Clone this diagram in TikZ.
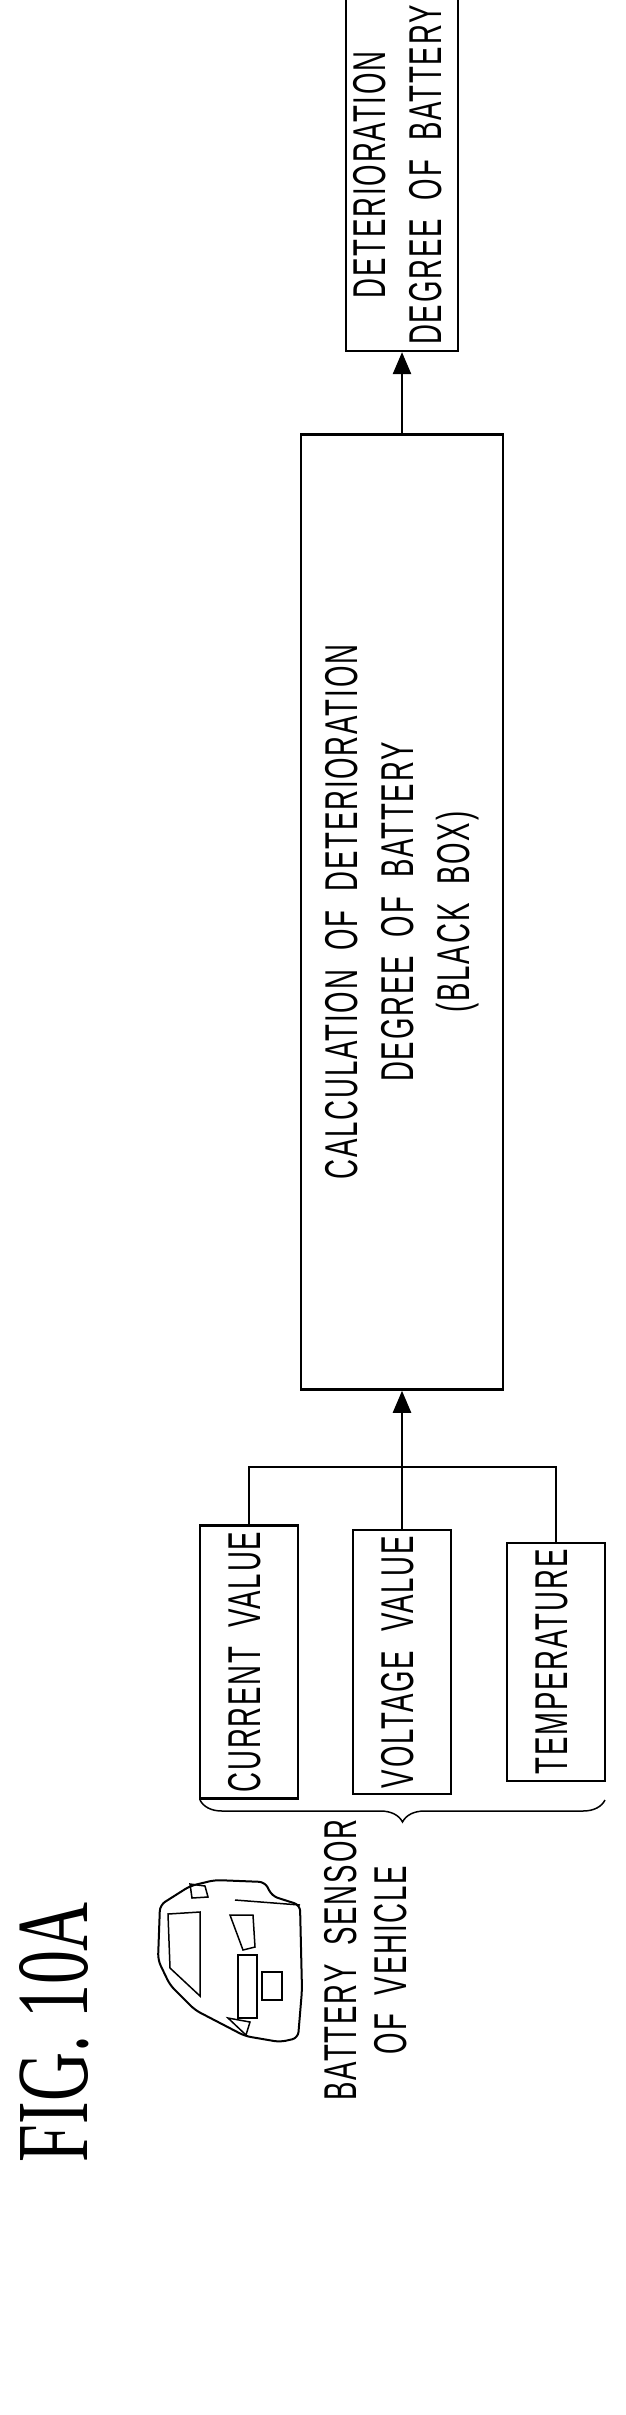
\documentclass[tikz,border=0pt]{standalone}
\usepackage{fontspec}
\setmainfont{Liberation Serif}
\newfontfamily\cond[FakeStretch=0.6,LetterSpace=4,WordSpace=2]{Liberation Sans}
\usetikzlibrary{decorations.pathreplacing,arrows.meta}

\tikzset{
  blk/.style={draw, line width=2.5pt, inner sep=0pt, font=\cond\fontsize{46}{56}\selectfont},
  conn/.style={line width=2.5pt},
  arr/.style={conn, -{Triangle[length=22pt,width=18pt]}}
}
\newcommand{\vtext}[1]{\rotatebox{90}{\begin{tabular}{c}#1\end{tabular}}}

\begin{document}
\begin{tikzpicture}[x=1pt,y=-1pt]
    \useasboundingbox (0,0) rectangle (626,2415);

    \node[blk, minimum width=100pt, minimum height=323pt] (out)  at (402,175) {\vtext{DETERIORATION\\DEGREE OF BATTERY}};
    \node[blk, minimum width=202pt, minimum height=955pt] (calc) at (402,912) {\vtext{CALCULATION OF DETERIORATION\\DEGREE OF BATTERY\\(BLACK BOX)}};
    \node[blk, minimum width=98pt, minimum height=238pt]  (cur)  at (249,1662) {\vtext{CURRENT VALUE}};
    \node[blk, minimum width=98pt, minimum height=238pt]  (volt) at (402,1662) {\vtext{VOLTAGE VALUE}};
    \node[blk, minimum width=98pt, minimum height=238pt]  (temp) at (556,1662) {\vtext{TEMPERATURE}};

    \coordinate (bus) at (402,1467);
    \draw[conn] (cur.north) |- (bus) -| (temp.north);
    \draw[arr] (volt.north) -- (calc.south);
    \draw[arr] (calc.north) -- (out.south);

    \coordinate (br1) at (200,1800);
    \coordinate (br2) at (605,1800);
    \draw[line width=1.5pt, decorate, decoration={brace, mirror, amplitude=22pt}] (br1) -- (br2);

    \node[font=\cond\fontsize{46}{50}\selectfont, inner sep=0pt] (sensor) at (371,1960) {\vtext{BATTERY SENSOR\\OF VEHICLE}};
    \node[inner sep=0pt] (fig) at (54,2032) {\rotatebox{90}{\resizebox{260pt}{68pt}{FIG. 10A}}};

    % car
    \draw[line width=2pt, rounded corners=6pt] (160,1905) -- (190,1886) -- (215,1880) -- (265,1882) -- (272,1896) -- (300,1905) -- (302,1990) -- (298,2038) -- (280,2042) -- (245,2036) -- (195,2010) -- (170,1985) -- (158,1960) -- cycle;
    \draw[line width=1.5pt] (168,1914) -- (200,1912) -- (200,1996) -- (170,1968) -- cycle;
    \draw[line width=1.5pt] (190,1884) -- (205,1886) -- (208,1897) -- (192,1898) -- cycle;
    \draw[line width=1.5pt] (230,1915) -- (253,1915) -- (255,1947) -- (243,1950) -- cycle;
    \draw[line width=1.5pt] (238,1955) rectangle (257,2018);
    \draw[line width=1.5pt] (262,1972) rectangle (282,2000);
    \draw[line width=1.5pt] (228,2018) -- (250,2022) -- (246,2035) -- cycle;
    \draw[line width=1.5pt] (235,1900) -- (300,1905);
\end{tikzpicture}
\end{document}
